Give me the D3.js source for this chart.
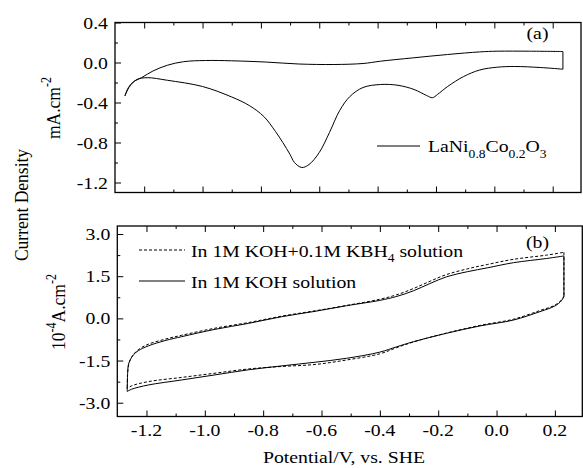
<!DOCTYPE html>
<html>
<head>
<meta charset="utf-8">
<script src="https://cdn.jsdelivr.net/npm/d3@7"></script>
<style>
  body { margin: 0; background: #fff; }
  text { font-family: "Liberation Serif", "Times New Roman", Times, serif; fill: #000; }
</style>
</head>
<body>
<div id="chart"></div>
<script>
// ---- data (potential V vs SHE, current density) ----
// panel (a): LaNi0.8Co0.2O3, mA.cm-2
const aForward = [[-1.266,-0.334],[-1.254,-0.25],[-1.237,-0.194],[-1.208,-0.15],[-1.17,-0.085],[-1.12,-0.027],
  [-1.065,0.008],[-0.99,0.02],[-0.9,0.017],[-0.78,0.004],[-0.67,-0.015],[-0.55,-0.02],[-0.45,-0.01],[-0.39,0.013],
  [-0.28,0.046],[-0.16,0.08],[-0.05,0.106],[0.01,0.113],[0.12,0.113],[0.235,0.11]];
const aReverse = [[0.235,-0.067],[0.157,-0.05],[0.07,-0.04],[0.01,-0.047],[-0.05,-0.075],[-0.105,-0.14],[-0.16,-0.24],
  [-0.195,-0.32],[-0.212,-0.352],[-0.232,-0.33],[-0.275,-0.27],[-0.33,-0.228],[-0.39,-0.22],[-0.45,-0.25],[-0.495,-0.34],
  [-0.53,-0.48],[-0.565,-0.70],[-0.6,-0.9],[-0.635,-1.02],[-0.66,-1.05],[-0.685,-1.0],[-0.70,-0.92],[-0.725,-0.80],
  [-0.75,-0.69],[-0.79,-0.54],[-0.84,-0.43],[-0.9,-0.345],[-1.0,-0.24],[-1.12,-0.178],[-1.19,-0.152],[-1.225,-0.17],
  [-1.25,-0.24],[-1.266,-0.334]];

// panel (b): 10^-4 A.cm-2
const kohForward = [[-1.266,-2.55],[-1.265,-2.1],[-1.264,-1.83],[-1.262,-1.65],[-1.256,-1.48],[-1.245,-1.30],[-1.228,-1.15],
  [-1.194,-0.98],[-1.136,-0.79],[-1.079,-0.65],[-0.965,-0.39],[-0.851,-0.18],[-0.736,0.06],[-0.622,0.25],[-0.514,0.45],
  [-0.4,0.64],[-0.342,0.78],[-0.285,0.98],[-0.228,1.24],[-0.171,1.48],[-0.1,1.66],[-0.03,1.8],[0.058,1.98],[0.172,2.13],
  [0.231,2.22]];
const kohReverse = [[0.231,0.77],[0.222,0.62],[0.2,0.44],[0.149,0.24],[0.058,-0.06],[-0.057,-0.27],[-0.171,-0.53],
  [-0.285,-0.83],[-0.342,-1.01],[-0.4,-1.2],[-0.514,-1.42],[-0.622,-1.56],[-0.736,-1.69],[-0.851,-1.83],[-0.965,-2.01],
  [-1.079,-2.19],[-1.194,-2.37],[-1.251,-2.52],[-1.266,-2.6]];
const kbhForward = [[-1.266,-2.45],[-1.265,-2.0],[-1.263,-1.78],[-1.26,-1.6],[-1.254,-1.44],[-1.243,-1.26],[-1.226,-1.10],
  [-1.194,-0.92],[-1.136,-0.74],[-1.079,-0.6],[-0.965,-0.35],[-0.851,-0.15],[-0.736,0.08],[-0.622,0.27],[-0.514,0.46],
  [-0.4,0.68],[-0.342,0.84],[-0.285,1.06],[-0.228,1.32],[-0.171,1.56],[-0.1,1.76],[-0.03,1.92],[0.058,2.1],[0.172,2.25],
  [0.231,2.35]];
const kbhReverse = [[0.231,0.8],[0.222,0.65],[0.2,0.47],[0.149,0.28],[0.058,-0.03],[-0.057,-0.25],[-0.171,-0.52],
  [-0.285,-0.84],[-0.342,-1.04],[-0.4,-1.26],[-0.514,-1.48],[-0.622,-1.64],[-0.736,-1.71],[-0.851,-1.8],[-0.965,-1.95],
  [-1.079,-2.1],[-1.194,-2.25],[-1.251,-2.4],[-1.266,-2.5]];

const xTicks = [-1.2, -1.0, -0.8, -0.6, -0.4, -0.2, 0.0, 0.2];
const xMinor = [-1.1, -0.9, -0.7, -0.5, -0.3, -0.1, 0.1];
const yTicksA = [0.4, 0.0, -0.4, -0.8, -1.2];
const yMinorA = [0.2, -0.2, -0.6, -1.0];
const yTicksB = [3.0, 1.5, 0.0, -1.5, -3.0];
const yMinorB = [2.25, 0.75, -0.75, -2.25];

const W = 583, H = 468, SX = 1.13, FS = 17.5;
const fmt = v => d3.format(".1f")(v).replace("\u2212", "-");

const svg = d3.select('#chart').append('svg').attr('width', W).attr('height', H);

// horizontally stretched text like the scanned figure
function label(x, y, anchor) {
  return svg.append('text')
    .attr('transform', `translate(${x},${y}) scale(${SX},1)`)
    .attr('text-anchor', anchor)
    .style('font-size', FS + 'px');
}

function panel(box, xDom, yDom, yTicks, yMinor, showX) {
  const x = d3.scaleLinear().domain(xDom).range([box.l, box.r]);
  const y = d3.scaleLinear().domain(yDom).range([box.b, box.t]);
  const tickAxis = (axis, pos, vals, size) => {
    const g = svg.append('g').attr('transform', pos)
      .call(axis.tickValues(vals).tickSize(size).tickFormat(''));
    g.select('.domain').remove();
    g.selectAll('line').attr('stroke', '#000').attr('stroke-width', 1);
  };
  tickAxis(d3.axisBottom(x), `translate(0,${box.b})`, xTicks, -6);
  tickAxis(d3.axisBottom(x), `translate(0,${box.b})`, xMinor, -3);
  tickAxis(d3.axisTop(x), `translate(0,${box.t})`, xTicks, -6);
  tickAxis(d3.axisTop(x), `translate(0,${box.t})`, xMinor, -3);
  tickAxis(d3.axisLeft(y), `translate(${box.l},0)`, yTicks, -6);
  tickAxis(d3.axisLeft(y), `translate(${box.l},0)`, yMinor, -3);

  svg.append('rect')
    .attr('x', box.l).attr('y', box.t)
    .attr('width', box.r - box.l).attr('height', box.b - box.t)
    .attr('fill', 'none').attr('stroke', '#000').attr('stroke-width', 1.3);

  yTicks.forEach(v => label(box.l - 7, y(v) + 6, 'end').text(fmt(v)));
  if (showX) xTicks.forEach(v => label(x(v), 436, 'middle').text(fmt(v)));
  return { x, y };
}

const A = panel({ l: 115, r: 581, t: 22.5, b: 192.5 }, [-1.3, 0.297], [-1.3, 0.4], yTicksA, yMinorA, false);
const B = panel({ l: 117.3, r: 582.3, t: 226, b: 416.5 }, [-1.3, 0.294], [-3.49, 3.285], yTicksB, yMinorB, true);

function loop(sc, fwd, rev, dash) {
  const curve = d3.line().x(d => sc.x(d[0])).y(d => sc.y(d[1])).curve(d3.curveCatmullRom.alpha(0.5));
  const straight = d3.line().x(d => sc.x(d[0])).y(d => sc.y(d[1]));
  const style = p => p.attr('fill', 'none').attr('stroke', '#000').attr('stroke-width', 1)
    .attr('stroke-dasharray', dash || null);
  style(svg.append('path').attr('d', curve(fwd)));
  style(svg.append('path').attr('d', straight([fwd[fwd.length - 1], rev[0]])));
  style(svg.append('path').attr('d', curve(rev)));
  style(svg.append('path').attr('d', straight([rev[rev.length - 1], fwd[0]])));
}

loop(A, aForward, aReverse);
loop(B, kbhForward, kbhReverse, '3,2');
loop(B, kohForward, kohReverse);

// panel labels
label(537.5, 39, 'middle').text('(a)');
label(537.5, 248, 'middle').text('(b)');

// legend (a)
svg.append('line').attr('x1', 377).attr('x2', 420).attr('y1', 146).attr('y2', 146)
  .attr('stroke', '#000').attr('stroke-width', 1);
const la = label(428, 152, 'start');
la.append('tspan').text('LaNi');
la.append('tspan').attr('dy', 6).style('font-size', '12px').text('0.8');
la.append('tspan').attr('dy', -6).text('Co');
la.append('tspan').attr('dy', 6).style('font-size', '12px').text('0.2');
la.append('tspan').attr('dy', -6).text('O');
la.append('tspan').attr('dy', 6).style('font-size', '12px').text('3');

// legend (b)
svg.append('line').attr('x1', 139).attr('x2', 185).attr('y1', 250).attr('y2', 250)
  .attr('stroke', '#000').attr('stroke-width', 1).attr('stroke-dasharray', '3,2');
const lb = label(191, 257, 'start');
lb.append('tspan').text('In 1M KOH+0.1M KBH');
lb.append('tspan').attr('dy', 5).style('font-size', '12px').text('4');
lb.append('tspan').attr('dy', -5).text(' solution');
svg.append('line').attr('x1', 139).attr('x2', 185).attr('y1', 281).attr('y2', 281)
  .attr('stroke', '#000').attr('stroke-width', 1);
label(191, 288, 'start').text('In 1M KOH solution');

// axis titles
label(344, 463, 'middle').text('Potential/V, vs. SHE');

function vlabel(x, y) {
  return svg.append('text')
    .attr('transform', `translate(${x},${y}) scale(${SX},1) rotate(-90)`)
    .attr('text-anchor', 'middle')
    .style('font-size', FS + 'px');
}
vlabel(28, 205).text('Current Density');
const ya = vlabel(60, 108);
ya.append('tspan').text('mA.cm');
ya.append('tspan').attr('dy', -8).style('font-size', '12px').text('-2');
const yb = vlabel(65, 312);
yb.append('tspan').text('10');
yb.append('tspan').attr('dy', -8).style('font-size', '12px').text('-4');
yb.append('tspan').attr('dy', 8).text('A.cm');
yb.append('tspan').attr('dy', -8).style('font-size', '12px').text('-2');
</script>
</body>
</html>
